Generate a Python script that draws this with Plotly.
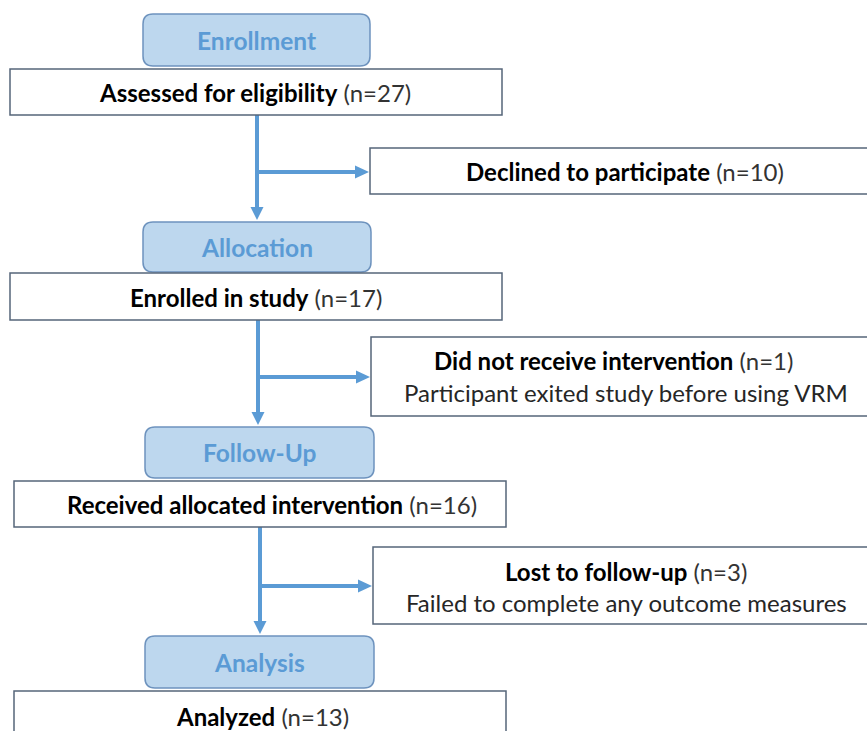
import plotly.graph_objects as go

# ---- data ----
stages = ["Enrollment", "Allocation", "Follow-Up", "Analysis"]
main_labels = ["Assessed for eligibility", "Enrolled in study",
               "Received allocated intervention", "Analyzed"]
main_counts = [27, 17, 16, 13]
side_labels = ["Declined to participate", "Did not receive intervention",
               "Lost to follow-up"]
side_counts = [10, 1, 3]
side_notes = ["", "Participant exited study before using VRM",
              "Failed to complete any outcome measures"]

# ---- layout geometry (pixels) ----
W, H = 867, 731
FONT = "Lato"
FS = 24
PFS = 24.5
BLUE = "#5B9BD5"
PILL_FILL = "#BDD7EE"
PILL_LINE = "#6E93BE"
BOX_LINE = "#56657A"

pills = [(143, 14, 370, 66), (143, 222, 371, 272), (145, 427, 374, 478), (145, 636, 374, 688)]
pill_text_y = [40, 247, 452, 662]
main_boxes = [(10, 69, 502, 115), (10, 273, 502, 320), (14, 481, 506, 527), (14, 691, 506, 760)]
main_text = [(255, 92), (256, 297), (272, 504), (262, 716)]
side_boxes = [(370, 148, 880, 194), (371, 337, 880, 416), (373, 547, 880, 624)]
side_text = [(625, 171), (613, 360), (626, 571)]
side_note_pos = [None, (626, 392), (626, 602)]
vlines = [(257, 115, 222), (258, 320, 427), (260, 527, 636)]
branch_y = [172, 377, 586]

shapes = []
annotations = []


def rounded(x0, y0, x1, y1, r):
    return (f"M{x0+r},{y0} L{x1-r},{y0} Q{x1},{y0} {x1},{y0+r} "
            f"L{x1},{y1-r} Q{x1},{y1} {x1-r},{y1} L{x0+r},{y1} "
            f"Q{x0},{y1} {x0},{y1-r} L{x0},{y0+r} Q{x0},{y0} {x0+r},{y0} Z")


# connectors
for i, (x, ya, yb) in enumerate(vlines):
    tip = yb - 2
    shapes.append(dict(type="line", x0=x, x1=x, y0=ya, y1=tip - 10,
                       line=dict(color=BLUE, width=4)))
    shapes.append(dict(type="path", path=f"M{x-6.5},{tip-13} L{x+6.5},{tip-13} L{x},{tip} Z",
                       fillcolor=BLUE, line=dict(color=BLUE, width=0)))
    by = branch_y[i]
    bx_tip = side_boxes[i][0] - 1
    shapes.append(dict(type="line", x0=x, x1=bx_tip - 10, y0=by, y1=by,
                       line=dict(color=BLUE, width=4)))
    shapes.append(dict(type="path", path=f"M{bx_tip-14},{by-6.5} L{bx_tip-14},{by+6.5} L{bx_tip},{by} Z",
                       fillcolor=BLUE, line=dict(color=BLUE, width=0)))

# stage pills
for (x0, y0, x1, y1), name, ty in zip(pills, stages, pill_text_y):
    shapes.append(dict(type="path", path=rounded(x0, y0, x1, y1, 10),
                       fillcolor=PILL_FILL, line=dict(color=PILL_LINE, width=1.5)))
    annotations.append(dict(x=(x0 + x1) / 2, y=ty, text=f"<b>{name}</b>", showarrow=False,
                            font=dict(family=FONT, size=PFS, color=BLUE),
                            xanchor="center", yanchor="middle"))

# main boxes
for (x0, y0, x1, y1), lab, n, (tx, ty) in zip(main_boxes, main_labels, main_counts, main_text):
    shapes.append(dict(type="rect", x0=x0, y0=y0, x1=x1, y1=y1,
                       fillcolor="white", line=dict(color=BOX_LINE, width=1.5)))
    annotations.append(dict(x=tx, y=ty, showarrow=False,
                            text=f"<b>{lab}</b> <span style='color:#333333'>(n={n})</span>",
                            font=dict(family=FONT, size=FS, color="black"),
                            xanchor="center", yanchor="middle"))

# side boxes
for (x0, y0, x1, y1), lab, n, note, (tx, ty), npos in zip(side_boxes, side_labels, side_counts,
                                                         side_notes, side_text, side_note_pos):
    shapes.append(dict(type="rect", x0=x0, y0=y0, x1=x1, y1=y1,
                       fillcolor="white", line=dict(color=BOX_LINE, width=1.5)))
    annotations.append(dict(x=tx, y=ty, showarrow=False,
                            text=f"<b>{lab}</b> <span style='color:#333333'>(n={n})</span>",
                            font=dict(family=FONT, size=FS, color="black"),
                            xanchor="center", yanchor="middle"))
    if note:
        annotations.append(dict(x=npos[0], y=npos[1], showarrow=False, text=note,
                                font=dict(family=FONT, size=FS, color="#262626"),
                                xanchor="center", yanchor="middle"))

fig = go.Figure()
fig.update_layout(
    width=W, height=H, margin=dict(l=0, r=0, t=0, b=0),
    paper_bgcolor="white", plot_bgcolor="white",
    xaxis=dict(range=[0, W], visible=False, fixedrange=True),
    yaxis=dict(range=[H, 0], visible=False, fixedrange=True),
    shapes=shapes, annotations=annotations, showlegend=False,
)
fig.write_html("out.html", config={"displayModeBar": False},
               post_script="document.body.style.margin='0';document.body.style.overflow='hidden';")
